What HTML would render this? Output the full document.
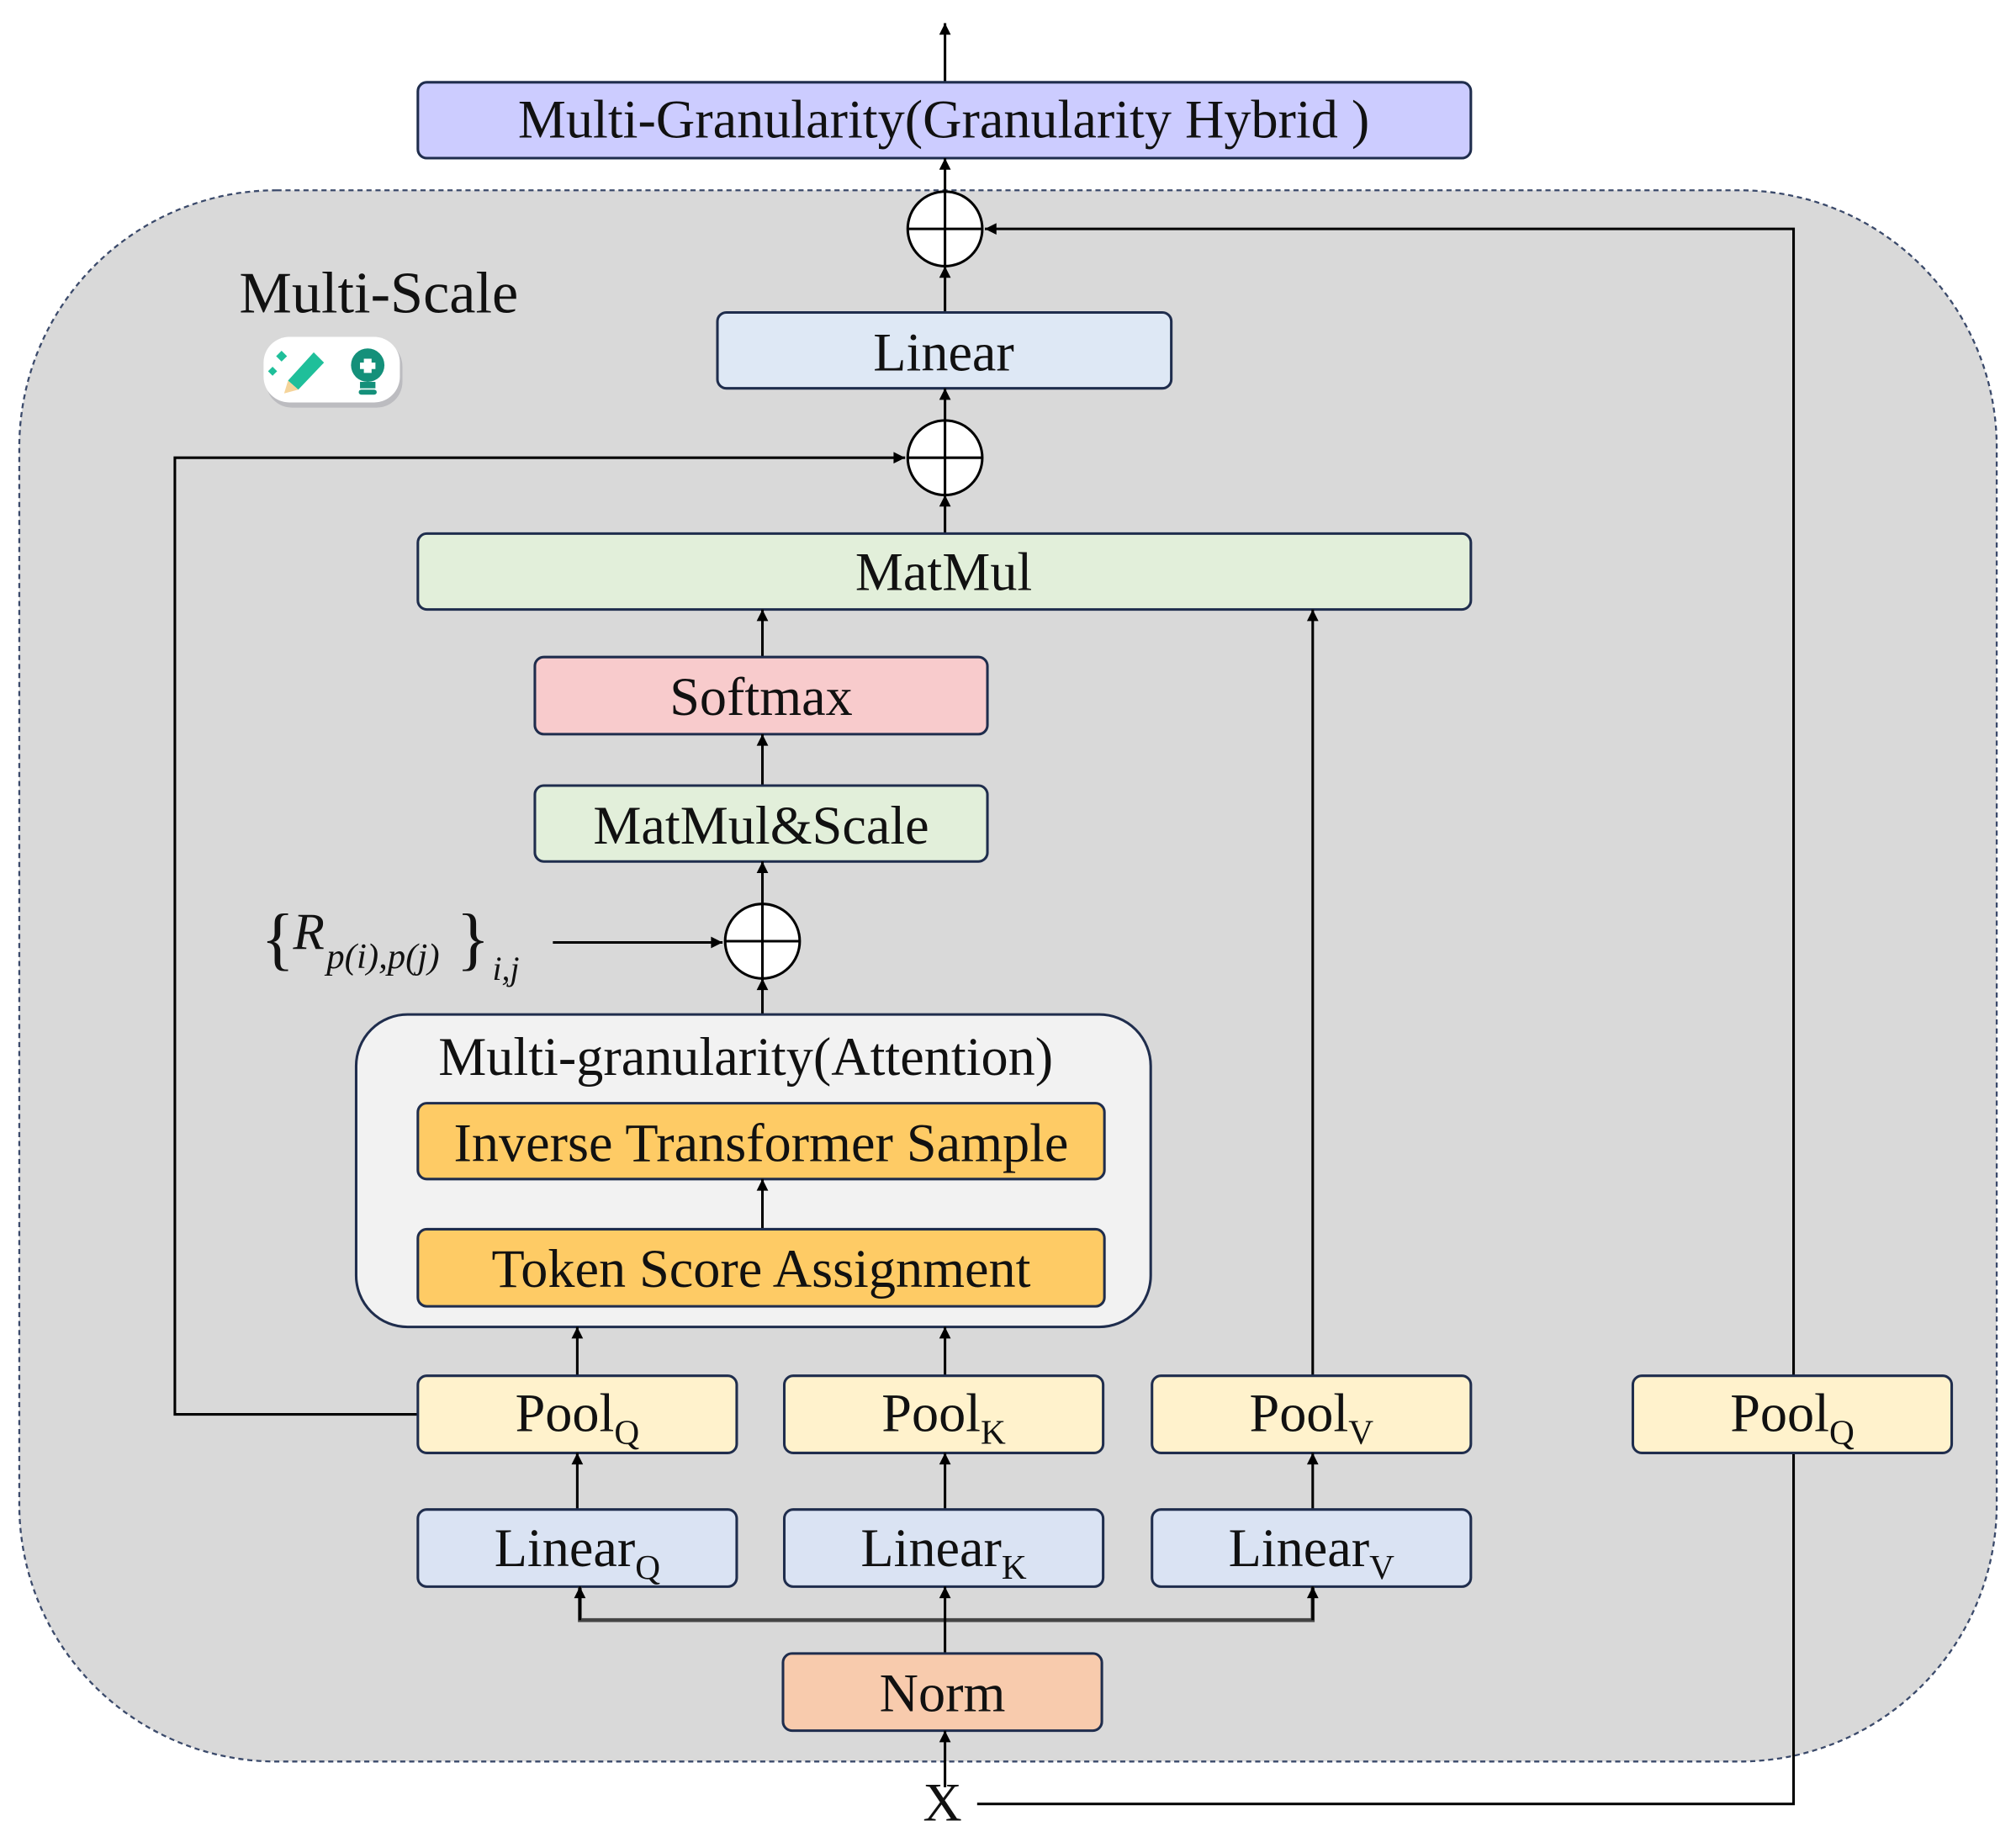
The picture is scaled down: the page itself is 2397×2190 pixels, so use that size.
<!DOCTYPE html>
<html><head><meta charset="utf-8"><style>
html,body{margin:0;padding:0;background:#fff;}
svg{display:block}
text{font-family:"Liberation Serif",serif;fill:#111;}
</style></head><body>
<svg width="2397" height="2190" viewBox="0 0 1568 1432.6" xmlns="http://www.w3.org/2000/svg">
<defs>
<marker id="b" viewBox="0 0 10 10" refX="10" refY="5" markerWidth="14" markerHeight="9" orient="auto" markerUnits="userSpaceOnUse">
<path d="M0,0 L10,5 L0,10 z" fill="#000"/></marker>
</defs>
<rect width="1568" height="1433" fill="#fff"/>
<rect x="15" y="148" width="1538" height="1222" rx="200" ry="200" fill="#d9d9d9" stroke="#3b4a6b" stroke-width="1.5" stroke-dasharray="4,3"/>
<line x1="735" y1="64" x2="735" y2="18" stroke="#000" stroke-width="2" marker-end="url(#b)"/>
<rect x="325" y="64" width="819" height="59" rx="7" fill="#ccccff" stroke="#1f2d4d" stroke-width="2"/>
<text x="734" y="107" font-size="42" text-anchor="middle">Multi-Granularity(Granularity Hybrid )</text>
<polyline points="760,1403 1395,1403 1395,178 766,178" fill="none" stroke="#000" stroke-width="2" marker-end="url(#b)"/>
<polyline points="325,1100 136,1100 136,356 704,356" fill="none" stroke="#000" stroke-width="2" marker-end="url(#b)"/>
<line x1="735" y1="149" x2="735" y2="123" stroke="#000" stroke-width="2" marker-end="url(#b)"/>
<ellipse cx="735" cy="178" rx="29" ry="29" fill="#fff" stroke="#000" stroke-width="2"/>
<line x1="706" y1="178" x2="764" y2="178" stroke="#000" stroke-width="2"/>
<line x1="735" y1="149" x2="735" y2="207" stroke="#000" stroke-width="2"/>
<line x1="735" y1="243" x2="735" y2="207" stroke="#000" stroke-width="2" marker-end="url(#b)"/>
<text x="186" y="243" font-size="46">Multi-Scale</text>
<rect x="207" y="265" width="106" height="52" rx="20" fill="#a0a0a8" opacity="0.5"/>
<rect x="205" y="262" width="106" height="51" rx="20" fill="#fff"/>
<path d="M224,296 L244,274 L252,282 L232,303 Z" fill="#1fbf9a"/>
<path d="M224,296 L232,303 L221,306 Z" fill="#f5d49a"/>
<rect x="216" y="274" width="6" height="6" fill="#1fbf9a" transform="rotate(45 219 277)"/>
<rect x="210" y="286" width="5" height="5" fill="#1fbf9a" transform="rotate(45 212 288)"/>
<circle cx="286" cy="284" r="13" fill="#14907a"/>
<rect x="280" y="297" width="12" height="5" fill="#14907a"/>
<rect x="279" y="303" width="14" height="4" rx="2" fill="#14907a"/>
<path d="M283,279 h6 v3 h3 v5 h-3 v3 h-6 v-3 h-3 v-5 h3z" fill="#fff"/>
<rect x="558" y="243" width="353" height="59" rx="7" fill="#dee8f5" stroke="#1f2d4d" stroke-width="2"/>
<text x="734" y="288" font-size="42" text-anchor="middle">Linear</text>
<line x1="735" y1="327" x2="735" y2="302" stroke="#000" stroke-width="2" marker-end="url(#b)"/>
<ellipse cx="735" cy="356" rx="29" ry="29" fill="#fff" stroke="#000" stroke-width="2"/>
<line x1="706" y1="356" x2="764" y2="356" stroke="#000" stroke-width="2"/>
<line x1="735" y1="327" x2="735" y2="385" stroke="#000" stroke-width="2"/>
<line x1="735" y1="415" x2="735" y2="385" stroke="#000" stroke-width="2" marker-end="url(#b)"/>
<rect x="325" y="415" width="819" height="59" rx="7" fill="#e2efda" stroke="#1f2d4d" stroke-width="2"/>
<text x="734" y="459" font-size="42" text-anchor="middle">MatMul</text>
<line x1="593" y1="511" x2="593" y2="474" stroke="#000" stroke-width="2" marker-end="url(#b)"/>
<rect x="416" y="511" width="352" height="60" rx="7" fill="#f8cbcc" stroke="#1f2d4d" stroke-width="2"/>
<text x="592" y="556" font-size="42" text-anchor="middle">Softmax</text>
<line x1="593" y1="611" x2="593" y2="571" stroke="#000" stroke-width="2" marker-end="url(#b)"/>
<rect x="416" y="611" width="352" height="59" rx="7" fill="#e2efda" stroke="#1f2d4d" stroke-width="2"/>
<text x="592" y="656" font-size="42" text-anchor="middle">MatMul&amp;Scale</text>
<line x1="593" y1="703" x2="593" y2="670" stroke="#000" stroke-width="2" marker-end="url(#b)"/>
<ellipse cx="593" cy="732" rx="29" ry="29" fill="#fff" stroke="#000" stroke-width="2"/>
<line x1="564" y1="732" x2="622" y2="732" stroke="#000" stroke-width="2"/>
<line x1="593" y1="703" x2="593" y2="761" stroke="#000" stroke-width="2"/>
<line x1="593" y1="789" x2="593" y2="761" stroke="#000" stroke-width="2" marker-end="url(#b)"/>
<text x="203" y="748" font-size="54" fill="#222">{</text>
<text x="228" y="738" font-size="40" font-style="italic" fill="#222">R</text>
<text x="254" y="753" font-size="28" font-style="italic" fill="#222">p(i),p(j)</text>
<text x="355" y="748" font-size="54" fill="#222">}</text>
<text x="383" y="762" font-size="26" font-style="italic" fill="#222">i,j</text>
<line x1="430" y1="733" x2="562" y2="733" stroke="#000" stroke-width="2" marker-end="url(#b)"/>
<rect x="277" y="789" width="618" height="243" rx="40" fill="#f2f2f2" stroke="#1f2d4d" stroke-width="2"/>
<text x="580" y="836" font-size="42" text-anchor="middle">Multi-granularity(Attention)</text>
<rect x="325" y="858" width="534" height="59" rx="7" fill="#fecb65" stroke="#1f2d4d" stroke-width="2"/>
<text x="592" y="903" font-size="42" text-anchor="middle">Inverse Transformer Sample</text>
<line x1="593" y1="956" x2="593" y2="917" stroke="#000" stroke-width="2" marker-end="url(#b)"/>
<rect x="325" y="956" width="534" height="60" rx="7" fill="#fecb65" stroke="#1f2d4d" stroke-width="2"/>
<text x="592" y="1001" font-size="42" text-anchor="middle">Token Score Assignment</text>
<line x1="449" y1="1070" x2="449" y2="1032" stroke="#000" stroke-width="2" marker-end="url(#b)"/>
<line x1="735" y1="1070" x2="735" y2="1032" stroke="#000" stroke-width="2" marker-end="url(#b)"/>
<line x1="1021" y1="1070" x2="1021" y2="474" stroke="#000" stroke-width="2" marker-end="url(#b)"/>
<g fill="#fff2cc" stroke="#1f2d4d" stroke-width="2">
<rect x="325" y="1070" width="248" height="60" rx="7"/>
<rect x="610" y="1070" width="248" height="60" rx="7"/>
<rect x="896" y="1070" width="248" height="60" rx="7"/>
<rect x="1270" y="1070" width="248" height="60" rx="7"/>
</g>
<g font-size="42" text-anchor="middle">
<text x="449" y="1113">Pool<tspan font-size="27" dy="10">Q</tspan></text>
<text x="734" y="1113">Pool<tspan font-size="27" dy="10">K</tspan></text>
<text x="1020" y="1113">Pool<tspan font-size="27" dy="10">V</tspan></text>
<text x="1394" y="1113">Pool<tspan font-size="27" dy="10">Q</tspan></text>
</g>
<line x1="449" y1="1174" x2="449" y2="1130" stroke="#000" stroke-width="2" marker-end="url(#b)"/>
<line x1="735" y1="1174" x2="735" y2="1130" stroke="#000" stroke-width="2" marker-end="url(#b)"/>
<line x1="1021" y1="1174" x2="1021" y2="1130" stroke="#000" stroke-width="2" marker-end="url(#b)"/>
<g fill="#dae3f3" stroke="#1f2d4d" stroke-width="2">
<rect x="325" y="1174" width="248" height="60" rx="7"/>
<rect x="610" y="1174" width="248" height="60" rx="7"/>
<rect x="896" y="1174" width="248" height="60" rx="7"/>
</g>
<g font-size="42" text-anchor="middle">
<text x="449" y="1218">Linear<tspan font-size="27" dy="10">Q</tspan></text>
<text x="734" y="1218">Linear<tspan font-size="27" dy="10">K</tspan></text>
<text x="1020" y="1218">Linear<tspan font-size="27" dy="10">V</tspan></text>
</g>
<polyline points="451,1234 451,1260 1021,1260 1021,1234" fill="none" stroke="#444" stroke-width="3"/>
<line x1="451" y1="1260" x2="451" y2="1234" stroke="#000" stroke-width="2" marker-end="url(#b)"/>
<line x1="1021" y1="1260" x2="1021" y2="1234" stroke="#000" stroke-width="2" marker-end="url(#b)"/>
<line x1="735" y1="1286" x2="735" y2="1234" stroke="#000" stroke-width="2" marker-end="url(#b)"/>
<rect x="609" y="1286" width="248" height="60" rx="7" fill="#f8cbad" stroke="#1f2d4d" stroke-width="2"/>
<text x="733" y="1331" font-size="42" text-anchor="middle">Norm</text>
<line x1="735" y1="1390" x2="735" y2="1346" stroke="#000" stroke-width="2" marker-end="url(#b)"/>
<text x="733" y="1416" font-size="42" text-anchor="middle">X</text>
</svg>
</body></html>
